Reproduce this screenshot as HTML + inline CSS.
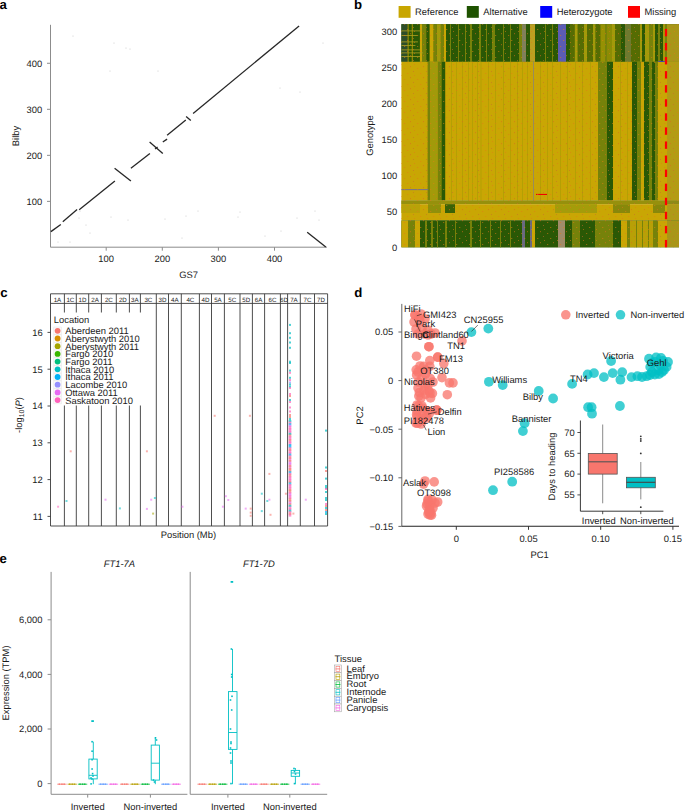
<!DOCTYPE html>
<html><head><meta charset="utf-8"><style>
html,body{margin:0;padding:0;background:#fff;width:685px;height:810px;overflow:hidden}
svg{display:block;font-family:"Liberation Sans", sans-serif}
</style></head><body>
<svg width="685" height="810" viewBox="0 0 685 810" text-rendering="geometricPrecision" font-family='"Liberation Sans", sans-serif'>
<text x="-0.6" y="8.8" font-size="13.2" font-weight="bold" fill="#000">a</text>
<text x="354" y="8.8" font-size="13.2" font-weight="bold" fill="#000">b</text>
<text x="0.2" y="296.9" font-size="13.2" font-weight="bold" fill="#000">c</text>
<text x="354.3" y="296.9" font-size="13.2" font-weight="bold" fill="#000">d</text>
<text x="-0.4" y="563.4" font-size="13.2" font-weight="bold" fill="#000">e</text>
<line x1="50.5" y1="24.8" x2="50.5" y2="247.2" stroke="#8c8c8c" stroke-width="1" />
<line x1="50.5" y1="247.2" x2="327" y2="247.2" stroke="#8c8c8c" stroke-width="1" />
<line x1="47" y1="201.37" x2="50.5" y2="201.37" stroke="#8c8c8c" stroke-width="1" />
<text transform="translate(42.2,204.67) scale(1,1.0)" font-size="9.4" text-anchor="end" fill="#1a1a1a" >100</text>
<line x1="106.2" y1="247.2" x2="106.2" y2="250.7" stroke="#8c8c8c" stroke-width="1" />
<text transform="translate(106.2,262.3) scale(1,1.0)" font-size="9.4" text-anchor="middle" fill="#1a1a1a" >100</text>
<line x1="47" y1="155.34" x2="50.5" y2="155.34" stroke="#8c8c8c" stroke-width="1" />
<text transform="translate(42.2,158.64) scale(1,1.0)" font-size="9.4" text-anchor="end" fill="#1a1a1a" >200</text>
<line x1="162.3" y1="247.2" x2="162.3" y2="250.7" stroke="#8c8c8c" stroke-width="1" />
<text transform="translate(162.3,262.3) scale(1,1.0)" font-size="9.4" text-anchor="middle" fill="#1a1a1a" >200</text>
<line x1="47" y1="109.31" x2="50.5" y2="109.31" stroke="#8c8c8c" stroke-width="1" />
<text transform="translate(42.2,112.61) scale(1,1.0)" font-size="9.4" text-anchor="end" fill="#1a1a1a" >300</text>
<line x1="218.4" y1="247.2" x2="218.4" y2="250.7" stroke="#8c8c8c" stroke-width="1" />
<text transform="translate(218.4,262.3) scale(1,1.0)" font-size="9.4" text-anchor="middle" fill="#1a1a1a" >300</text>
<line x1="47" y1="63.28" x2="50.5" y2="63.28" stroke="#8c8c8c" stroke-width="1" />
<text transform="translate(42.2,66.58) scale(1,1.0)" font-size="9.4" text-anchor="end" fill="#1a1a1a" >400</text>
<line x1="274.5" y1="247.2" x2="274.5" y2="250.7" stroke="#8c8c8c" stroke-width="1" />
<text transform="translate(274.5,262.3) scale(1,1.0)" font-size="9.4" text-anchor="middle" fill="#1a1a1a" >400</text>
<text transform="translate(188.6,277.8) scale(1,1.0)" font-size="9.4" text-anchor="middle" fill="#1a1a1a" >GS7</text>
<text transform="translate(18.8,136) rotate(-90) " font-size="9.4" text-anchor="middle" fill="#1a1a1a">Bilby</text>
<line x1="50.9" y1="231.6" x2="60.8" y2="224.5" stroke="#262626" stroke-width="1.3" stroke-linecap="butt"/>
<line x1="62.8" y1="221.7" x2="77.1" y2="209.6" stroke="#262626" stroke-width="1.3" stroke-linecap="butt"/>
<line x1="79.2" y1="209.8" x2="114.9" y2="181.1" stroke="#262626" stroke-width="1.3" stroke-linecap="butt"/>
<line x1="114.6" y1="168.2" x2="130.9" y2="181.1" stroke="#262626" stroke-width="1.3" stroke-linecap="butt"/>
<line x1="130.9" y1="168.2" x2="149.9" y2="153.4" stroke="#262626" stroke-width="1.3" stroke-linecap="butt"/>
<line x1="149.6" y1="142.1" x2="162.8" y2="153.4" stroke="#262626" stroke-width="1.3" stroke-linecap="butt"/>
<line x1="155" y1="149" x2="157.6" y2="147" stroke="#262626" stroke-width="1.3" stroke-linecap="butt"/>
<line x1="162.8" y1="142" x2="167.1" y2="139.1" stroke="#262626" stroke-width="1.3" stroke-linecap="butt"/>
<line x1="167.1" y1="135.3" x2="185.8" y2="120.1" stroke="#262626" stroke-width="1.3" stroke-linecap="butt"/>
<line x1="186.1" y1="116.6" x2="190.8" y2="120.6" stroke="#262626" stroke-width="1.3" stroke-linecap="butt"/>
<line x1="193.1" y1="113.4" x2="299.1" y2="25.9" stroke="#262626" stroke-width="1.3" stroke-linecap="butt"/>
<line x1="307.2" y1="232.3" x2="325.8" y2="247" stroke="#262626" stroke-width="1.3" stroke-linecap="butt"/>
<circle cx="73" cy="36" r="0.5" fill="#bdbdbd" />
<circle cx="114" cy="43" r="0.5" fill="#bdbdbd" />
<circle cx="126" cy="48" r="0.5" fill="#bdbdbd" />
<circle cx="130" cy="49" r="0.5" fill="#bdbdbd" />
<circle cx="110" cy="71" r="0.5" fill="#bdbdbd" />
<circle cx="158" cy="71" r="0.5" fill="#bdbdbd" />
<circle cx="80" cy="211" r="0.5" fill="#bdbdbd" />
<circle cx="79" cy="218" r="0.5" fill="#bdbdbd" />
<circle cx="86" cy="225" r="0.5" fill="#bdbdbd" />
<circle cx="90" cy="233" r="0.5" fill="#bdbdbd" />
<circle cx="111" cy="217" r="0.5" fill="#bdbdbd" />
<circle cx="128" cy="220" r="0.5" fill="#bdbdbd" />
<circle cx="165" cy="219" r="0.5" fill="#bdbdbd" />
<circle cx="186" cy="216" r="0.5" fill="#bdbdbd" />
<circle cx="198" cy="211" r="0.5" fill="#bdbdbd" />
<circle cx="238" cy="217" r="0.5" fill="#bdbdbd" />
<circle cx="240" cy="212" r="0.5" fill="#bdbdbd" />
<circle cx="265" cy="236" r="0.5" fill="#bdbdbd" />
<circle cx="281" cy="231" r="0.5" fill="#bdbdbd" />
<circle cx="297" cy="218" r="0.5" fill="#bdbdbd" />
<circle cx="319" cy="220" r="0.5" fill="#bdbdbd" />
<circle cx="280" cy="88" r="0.5" fill="#bdbdbd" />
<circle cx="300" cy="92" r="0.5" fill="#bdbdbd" />
<circle cx="323" cy="43" r="0.5" fill="#bdbdbd" />
<circle cx="315" cy="211" r="0.5" fill="#bdbdbd" />
<circle cx="58" cy="242" r="0.5" fill="#bdbdbd" />
<circle cx="70" cy="242" r="0.5" fill="#bdbdbd" />
<circle cx="182" cy="238" r="0.5" fill="#bdbdbd" />
<rect x="401.4" y="24.2" width="277.6" height="37.6" fill="#2A5805" />
<rect x="401.4" y="24.2" width="6.3" height="37.6" fill="#2E4E28" />
<rect x="407.7" y="24.2" width="1" height="37.6" fill="#C9A604" />
<rect x="408.7" y="24.2" width="3.1" height="37.6" fill="#2A5805" />
<rect x="411.8" y="24.2" width="1" height="37.6" fill="#C9A604" />
<rect x="412.8" y="24.2" width="7.1" height="37.6" fill="#2A5805" />
<rect x="419.9" y="24.2" width="2.1" height="37.6" fill="#C9A604" />
<rect x="422" y="24.2" width="4.6" height="37.6" fill="#76820A" />
<rect x="426.6" y="24.2" width="3" height="37.6" fill="#2A5805" />
<rect x="429.6" y="24.2" width="4.1" height="37.6" fill="#C9A604" />
<rect x="433.7" y="24.2" width="3.1" height="37.6" fill="#76820A" />
<rect x="436.8" y="24.2" width="4.1" height="37.6" fill="#A29A0A" />
<rect x="440.9" y="24.2" width="3" height="37.6" fill="#76820A" />
<rect x="443.9" y="24.2" width="2.1" height="37.6" fill="#C9A604" />
<rect x="446" y="24.2" width="24" height="37.6" fill="#2A5805" />
<rect x="450" y="24.2" width="1" height="37.6" fill="#76820A" />
<rect x="458" y="24.2" width="1" height="37.6" fill="#76820A" />
<rect x="465" y="24.2" width="1" height="37.6" fill="#76820A" />
<rect x="470" y="24.2" width="2" height="37.6" fill="#76820A" />
<rect x="472" y="24.2" width="7" height="37.6" fill="#2A5805" />
<rect x="479" y="24.2" width="2" height="37.6" fill="#76820A" />
<rect x="481" y="24.2" width="11" height="37.6" fill="#2A5805" />
<rect x="486" y="24.2" width="1" height="37.6" fill="#76820A" />
<rect x="492" y="24.2" width="3" height="37.6" fill="#76820A" />
<rect x="495" y="24.2" width="24" height="37.6" fill="#2A5805" />
<rect x="503" y="24.2" width="1" height="37.6" fill="#76820A" />
<rect x="510" y="24.2" width="1" height="37.6" fill="#76820A" />
<rect x="519" y="24.2" width="3" height="37.6" fill="#76820A" />
<rect x="522" y="24.2" width="4" height="37.6" fill="#80805A" />
<rect x="526" y="24.2" width="4" height="37.6" fill="#2A5805" />
<rect x="530" y="24.2" width="5" height="37.6" fill="#BCA020" />
<rect x="535" y="24.2" width="23" height="37.6" fill="#2A5805" />
<rect x="545" y="24.2" width="1" height="37.6" fill="#76820A" />
<rect x="552" y="24.2" width="1" height="37.6" fill="#76820A" />
<rect x="558" y="24.2" width="8" height="37.6" fill="#5C5CB4" />
<rect x="566" y="24.2" width="4" height="37.6" fill="#2A5805" />
<rect x="570" y="24.2" width="4.7" height="37.6" fill="#556C03" />
<rect x="574.7" y="24.2" width="3.1" height="37.6" fill="#A29A0A" />
<rect x="577.8" y="24.2" width="6.2" height="37.6" fill="#556C03" />
<rect x="584" y="24.2" width="3" height="37.6" fill="#A29A0A" />
<rect x="587" y="24.2" width="6" height="37.6" fill="#556C03" />
<rect x="593" y="24.2" width="2.7" height="37.6" fill="#A29A0A" />
<rect x="595.7" y="24.2" width="4.6" height="37.6" fill="#556C03" />
<rect x="600.3" y="24.2" width="4.7" height="37.6" fill="#969104" />
<rect x="605" y="24.2" width="2" height="37.6" fill="#76820A" />
<rect x="607" y="24.2" width="5" height="37.6" fill="#8C8C04" />
<rect x="612" y="24.2" width="3" height="37.6" fill="#A29A0A" />
<rect x="615" y="24.2" width="6" height="37.6" fill="#556C03" />
<rect x="621" y="24.2" width="4" height="37.6" fill="#2A5805" />
<rect x="625" y="24.2" width="6" height="37.6" fill="#6E7A30" />
<rect x="631" y="24.2" width="9" height="37.6" fill="#556C03" />
<rect x="640" y="24.2" width="2" height="37.6" fill="#A29A0A" />
<rect x="642" y="24.2" width="3" height="37.6" fill="#2A5805" />
<rect x="645" y="24.2" width="4" height="37.6" fill="#A29A0A" />
<rect x="649" y="24.2" width="4" height="37.6" fill="#76820A" />
<rect x="653" y="24.2" width="2" height="37.6" fill="#A29A0A" />
<rect x="655" y="24.2" width="3" height="37.6" fill="#2A5805" />
<rect x="658" y="24.2" width="2" height="37.6" fill="#76820A" />
<rect x="660" y="24.2" width="3" height="37.6" fill="#2A5805" />
<rect x="663" y="24.2" width="2" height="37.6" fill="#A29A0A" />
<rect x="665" y="24.2" width="2" height="37.6" fill="#76820A" />
<rect x="667" y="24.2" width="12" height="37.6" fill="#A89618" />
<rect x="401.4" y="30.5" width="20.5" height="0.8" fill="#B0A020" />
<rect x="401.4" y="35" width="16" height="0.8" fill="#B0A020" />
<rect x="401.4" y="41.5" width="16.5" height="0.8" fill="#B0A020" />
<rect x="401.4" y="45" width="14" height="0.8" fill="#B0A020" />
<rect x="401.4" y="49.5" width="18.5" height="0.8" fill="#B0A020" />
<rect x="401.4" y="52.5" width="21.5" height="0.8" fill="#B0A020" />
<rect x="401.4" y="56" width="19" height="0.8" fill="#B0A020" />
<rect x="401.4" y="61.8" width="277.6" height="138.7" fill="#C9A604" />
<rect x="427.6" y="61.8" width="2.8" height="138.7" fill="#76820A" />
<rect x="430.4" y="61.8" width="7.4" height="138.7" fill="#A29A0A" />
<rect x="437.8" y="61.8" width="3.7" height="138.7" fill="#76820A" />
<rect x="441.5" y="61.8" width="3.7" height="138.7" fill="#2A5805" />
<rect x="533" y="61.8" width="1" height="138.7" fill="#988C5A" />
<rect x="598" y="61.8" width="2" height="138.7" fill="#76820A" />
<rect x="600" y="61.8" width="7" height="138.7" fill="#76820A" />
<rect x="607" y="61.8" width="6" height="138.7" fill="#2A5805" />
<rect x="632" y="61.8" width="5" height="138.7" fill="#2A5805" />
<rect x="637" y="61.8" width="4" height="138.7" fill="#76820A" />
<rect x="644" y="61.8" width="5" height="138.7" fill="#2A5805" />
<rect x="649" y="61.8" width="3" height="138.7" fill="#76820A" />
<rect x="652" y="61.8" width="3" height="138.7" fill="#2A5805" />
<rect x="655" y="61.8" width="3" height="138.7" fill="#76820A" />
<rect x="667" y="61.8" width="12" height="138.7" fill="#B39C14" />
<rect x="451" y="61.8" width="1" height="138.7" fill="#B4A004" />
<rect x="456" y="61.8" width="1" height="138.7" fill="#B4A004" />
<rect x="462" y="61.8" width="1" height="138.7" fill="#B4A004" />
<rect x="468" y="61.8" width="1" height="138.7" fill="#B4A004" />
<rect x="472" y="61.8" width="1" height="138.7" fill="#B4A004" />
<rect x="477" y="61.8" width="1" height="138.7" fill="#B4A004" />
<rect x="480.5" y="61.8" width="1" height="138.7" fill="#B4A004" />
<rect x="488" y="61.8" width="1" height="138.7" fill="#B4A004" />
<rect x="495" y="61.8" width="1" height="138.7" fill="#B4A004" />
<rect x="503" y="61.8" width="1" height="138.7" fill="#B4A004" />
<rect x="510" y="61.8" width="1" height="138.7" fill="#B4A004" />
<rect x="517" y="61.8" width="1" height="138.7" fill="#B4A004" />
<rect x="522" y="61.8" width="1" height="138.7" fill="#B4A004" />
<rect x="527" y="61.8" width="1" height="138.7" fill="#B4A004" />
<rect x="540" y="61.8" width="1" height="138.7" fill="#B4A004" />
<rect x="547" y="61.8" width="1" height="138.7" fill="#B4A004" />
<rect x="552" y="61.8" width="1" height="138.7" fill="#B4A004" />
<rect x="560" y="61.8" width="1" height="138.7" fill="#B4A004" />
<rect x="567" y="61.8" width="1" height="138.7" fill="#B4A004" />
<rect x="575" y="61.8" width="1" height="138.7" fill="#B4A004" />
<rect x="582" y="61.8" width="1" height="138.7" fill="#B4A004" />
<rect x="590" y="61.8" width="1" height="138.7" fill="#B4A004" />
<rect x="620" y="61.8" width="1" height="138.7" fill="#B4A004" />
<rect x="627" y="61.8" width="1" height="138.7" fill="#B4A004" />
<rect x="401.4" y="189.2" width="27" height="0.9" fill="#6A6AA0" />
<rect x="658.3" y="61" width="6.4" height="0.9" fill="#4040C0" />
<rect x="536" y="193.9" width="11" height="1.1" fill="#F00000" />
<rect x="401.4" y="200.5" width="277.6" height="3.7" fill="#96900C" />
<rect x="401.4" y="200.5" width="263.6" height="3.7" fill="#96900C" />
<rect x="667" y="200.5" width="12" height="3.7" fill="#8E8A18" />
<rect x="401.4" y="204.2" width="277.6" height="16.3" fill="#C9A604" />
<rect x="667" y="204.2" width="12" height="16.3" fill="#AE9A18" />
<rect x="428" y="204.2" width="13" height="8.8" fill="#90900A" />
<rect x="445" y="204.2" width="10" height="8.8" fill="#3A6206" />
<rect x="555" y="204.2" width="42" height="8.8" fill="#A49C0A" />
<rect x="613" y="204.2" width="17" height="8.8" fill="#88880A" />
<rect x="653" y="204.2" width="12" height="8.8" fill="#88880A" />
<rect x="401.4" y="204.2" width="18.6" height="8.8" fill="#B8A208" />
<rect x="401.4" y="220.5" width="277.6" height="26.8" fill="#2A5805" />
<rect x="401.4" y="220.5" width="6.6" height="26.8" fill="#C9A604" />
<rect x="408" y="220.5" width="7" height="26.8" fill="#76820A" />
<rect x="415" y="220.5" width="5" height="26.8" fill="#C9A604" />
<rect x="420" y="220.5" width="102" height="26.8" fill="#2A5805" />
<rect x="425" y="220.5" width="2" height="26.8" fill="#76820A" />
<rect x="431" y="220.5" width="2" height="26.8" fill="#76820A" />
<rect x="437" y="220.5" width="1" height="26.8" fill="#76820A" />
<rect x="445" y="220.5" width="2" height="26.8" fill="#76820A" />
<rect x="455" y="220.5" width="1" height="26.8" fill="#76820A" />
<rect x="470" y="220.5" width="2" height="26.8" fill="#76820A" />
<rect x="480" y="220.5" width="1" height="26.8" fill="#76820A" />
<rect x="490" y="220.5" width="1" height="26.8" fill="#76820A" />
<rect x="500" y="220.5" width="1" height="26.8" fill="#76820A" />
<rect x="510" y="220.5" width="1" height="26.8" fill="#76820A" />
<rect x="522" y="220.5" width="3" height="26.8" fill="#6A6A80" />
<rect x="525" y="220.5" width="5" height="26.8" fill="#2A5805" />
<rect x="530" y="220.5" width="2" height="26.8" fill="#6A6A80" />
<rect x="532" y="220.5" width="3" height="26.8" fill="#C9A604" />
<rect x="535" y="220.5" width="23" height="26.8" fill="#2A5805" />
<rect x="558" y="220.5" width="7" height="26.8" fill="#A08C6A" />
<rect x="565" y="220.5" width="7" height="26.8" fill="#2A5805" />
<rect x="572" y="220.5" width="8" height="26.8" fill="#76820A" />
<rect x="580" y="220.5" width="15" height="26.8" fill="#2A5805" />
<rect x="595" y="220.5" width="18" height="26.8" fill="#76820A" />
<rect x="613" y="220.5" width="8" height="26.8" fill="#2A5805" />
<rect x="621" y="220.5" width="6" height="26.8" fill="#C9A604" />
<rect x="627" y="220.5" width="3" height="26.8" fill="#76820A" />
<rect x="630" y="220.5" width="23" height="26.8" fill="#B8A006" />
<rect x="636" y="220.5" width="1" height="26.8" fill="#76820A" />
<rect x="642" y="220.5" width="1" height="26.8" fill="#76820A" />
<rect x="648" y="220.5" width="1" height="26.8" fill="#76820A" />
<rect x="653" y="220.5" width="5" height="26.8" fill="#76820A" />
<rect x="658" y="220.5" width="7" height="26.8" fill="#C9A604" />
<rect x="665" y="220.5" width="2" height="26.8" fill="#C9A604" />
<rect x="667" y="220.5" width="12" height="26.8" fill="#A89618" />
<defs><pattern id="nz" x="0" y="0" width="13" height="11" patternUnits="userSpaceOnUse"><rect x="1" y="2" width="1.2" height="1" fill="#E07818"/><rect x="7" y="0" width="1" height="1.2" fill="#D86A20"/><rect x="4" y="7" width="1.3" height="1" fill="#E08010"/><rect x="10" y="5" width="1" height="1" fill="#C86A30"/><rect x="11" y="9" width="1" height="1" fill="#E07818"/></pattern></defs>
<rect x="401.4" y="24.2" width="277.6" height="223.1" fill="url(#nz)" opacity="0.55"/>
<rect x="664.9" y="28.9" width="2.2" height="7.4" fill="#FF0000" />
<rect x="664.9" y="42.97" width="2.2" height="7.4" fill="#FF0000" />
<rect x="664.9" y="57.04" width="2.2" height="7.4" fill="#FF0000" />
<rect x="664.9" y="71.11" width="2.2" height="7.4" fill="#FF0000" />
<rect x="664.9" y="85.18" width="2.2" height="7.4" fill="#FF0000" />
<rect x="664.9" y="99.25" width="2.2" height="7.4" fill="#FF0000" />
<rect x="664.9" y="113.32" width="2.2" height="7.4" fill="#FF0000" />
<rect x="664.9" y="127.39" width="2.2" height="7.4" fill="#FF0000" />
<rect x="664.9" y="141.46" width="2.2" height="7.4" fill="#FF0000" />
<rect x="664.9" y="155.53" width="2.2" height="7.4" fill="#FF0000" />
<rect x="664.9" y="169.6" width="2.2" height="7.4" fill="#FF0000" />
<rect x="664.9" y="183.67" width="2.2" height="7.4" fill="#FF0000" />
<rect x="664.9" y="197.74" width="2.2" height="7.4" fill="#FF0000" />
<rect x="664.9" y="211.81" width="2.2" height="7.4" fill="#FF0000" />
<rect x="664.9" y="225.88" width="2.2" height="7.4" fill="#FF0000" />
<rect x="664.9" y="239.95" width="2.2" height="7.35" fill="#FF0000" />
<text transform="translate(397.2,251.3) scale(1,1.0)" font-size="9.4" text-anchor="end" fill="#1a1a1a" >0</text>
<text transform="translate(397.2,215.22) scale(1,1.0)" font-size="9.4" text-anchor="end" fill="#1a1a1a" >50</text>
<text transform="translate(397.2,179.14) scale(1,1.0)" font-size="9.4" text-anchor="end" fill="#1a1a1a" >100</text>
<text transform="translate(397.2,143.06) scale(1,1.0)" font-size="9.4" text-anchor="end" fill="#1a1a1a" >150</text>
<text transform="translate(397.2,106.98) scale(1,1.0)" font-size="9.4" text-anchor="end" fill="#1a1a1a" >200</text>
<text transform="translate(397.2,70.9) scale(1,1.0)" font-size="9.4" text-anchor="end" fill="#1a1a1a" >250</text>
<text transform="translate(397.2,34.82) scale(1,1.0)" font-size="9.4" text-anchor="end" fill="#1a1a1a" >300</text>
<text transform="translate(373.4,135.5) rotate(-90) " font-size="9.4" text-anchor="middle" fill="#1a1a1a">Genotype</text>
<rect x="398.6" y="6" width="12" height="11.8" fill="#C8A600" />
<text transform="translate(415.1,15.2) scale(1,1.0)" font-size="9.4" text-anchor="start" fill="#1a1a1a" >Reference</text>
<rect x="466.8" y="6" width="12" height="11.8" fill="#1E5200" />
<text transform="translate(483.3,15.2) scale(1,1.0)" font-size="9.4" text-anchor="start" fill="#1a1a1a" >Alternative</text>
<rect x="540.2" y="6" width="12" height="11.8" fill="#0000FF" />
<text transform="translate(556.7,15.2) scale(1,1.0)" font-size="9.4" text-anchor="start" fill="#1a1a1a" >Heterozygote</text>
<rect x="628" y="6" width="12" height="11.8" fill="#FF0000" />
<text transform="translate(644.5,15.2) scale(1,1.0)" font-size="9.4" text-anchor="start" fill="#1a1a1a" >Missing</text>
<line x1="50.5" y1="293.8" x2="50.5" y2="526" stroke="#3a3a3a" stroke-width="0.9" />
<line x1="64.4" y1="293.8" x2="64.4" y2="526" stroke="#3a3a3a" stroke-width="0.9" />
<line x1="76.3" y1="293.8" x2="76.3" y2="526" stroke="#3a3a3a" stroke-width="0.9" />
<line x1="88.7" y1="293.8" x2="88.7" y2="526" stroke="#3a3a3a" stroke-width="0.9" />
<line x1="101.4" y1="293.8" x2="101.4" y2="526" stroke="#3a3a3a" stroke-width="0.9" />
<line x1="116.3" y1="293.8" x2="116.3" y2="526" stroke="#3a3a3a" stroke-width="0.9" />
<line x1="129.4" y1="293.8" x2="129.4" y2="526" stroke="#3a3a3a" stroke-width="0.9" />
<line x1="140.4" y1="293.8" x2="140.4" y2="526" stroke="#3a3a3a" stroke-width="0.9" />
<line x1="156.3" y1="293.8" x2="156.3" y2="526" stroke="#3a3a3a" stroke-width="0.9" />
<line x1="168.5" y1="293.8" x2="168.5" y2="526" stroke="#3a3a3a" stroke-width="0.9" />
<line x1="181.3" y1="293.8" x2="181.3" y2="526" stroke="#3a3a3a" stroke-width="0.9" />
<line x1="199.4" y1="293.8" x2="199.4" y2="526" stroke="#3a3a3a" stroke-width="0.9" />
<line x1="211.5" y1="293.8" x2="211.5" y2="526" stroke="#3a3a3a" stroke-width="0.9" />
<line x1="224.4" y1="293.8" x2="224.4" y2="526" stroke="#3a3a3a" stroke-width="0.9" />
<line x1="240" y1="293.8" x2="240" y2="526" stroke="#3a3a3a" stroke-width="0.9" />
<line x1="252.4" y1="293.8" x2="252.4" y2="526" stroke="#3a3a3a" stroke-width="0.9" />
<line x1="264.6" y1="293.8" x2="264.6" y2="526" stroke="#3a3a3a" stroke-width="0.9" />
<line x1="280.4" y1="293.8" x2="280.4" y2="526" stroke="#3a3a3a" stroke-width="0.9" />
<line x1="287.6" y1="293.8" x2="287.6" y2="526" stroke="#3a3a3a" stroke-width="0.9" />
<line x1="300.3" y1="293.8" x2="300.3" y2="526" stroke="#3a3a3a" stroke-width="0.9" />
<line x1="314.5" y1="293.8" x2="314.5" y2="526" stroke="#3a3a3a" stroke-width="0.9" />
<line x1="327.6" y1="293.8" x2="327.6" y2="526" stroke="#3a3a3a" stroke-width="0.9" />
<line x1="50.5" y1="293.8" x2="327.6" y2="293.8" stroke="#3a3a3a" stroke-width="0.9" />
<line x1="50.5" y1="303.4" x2="327.6" y2="303.4" stroke="#3a3a3a" stroke-width="0.9" />
<line x1="50.5" y1="526" x2="327.6" y2="526" stroke="#3a3a3a" stroke-width="0.9" />
<text transform="translate(57.45,302) scale(1,1.0)" font-size="6.2" text-anchor="middle" fill="#1a1a1a" >1A</text>
<text transform="translate(70.35,302) scale(1,1.0)" font-size="6.2" text-anchor="middle" fill="#1a1a1a" >1C</text>
<text transform="translate(82.5,302) scale(1,1.0)" font-size="6.2" text-anchor="middle" fill="#1a1a1a" >1D</text>
<text transform="translate(95.05,302) scale(1,1.0)" font-size="6.2" text-anchor="middle" fill="#1a1a1a" >2A</text>
<text transform="translate(108.85,302) scale(1,1.0)" font-size="6.2" text-anchor="middle" fill="#1a1a1a" >2C</text>
<text transform="translate(122.85,302) scale(1,1.0)" font-size="6.2" text-anchor="middle" fill="#1a1a1a" >2D</text>
<text transform="translate(134.9,302) scale(1,1.0)" font-size="6.2" text-anchor="middle" fill="#1a1a1a" >3A</text>
<text transform="translate(148.35,302) scale(1,1.0)" font-size="6.2" text-anchor="middle" fill="#1a1a1a" >3C</text>
<text transform="translate(162.4,302) scale(1,1.0)" font-size="6.2" text-anchor="middle" fill="#1a1a1a" >3D</text>
<text transform="translate(174.9,302) scale(1,1.0)" font-size="6.2" text-anchor="middle" fill="#1a1a1a" >4A</text>
<text transform="translate(190.35,302) scale(1,1.0)" font-size="6.2" text-anchor="middle" fill="#1a1a1a" >4C</text>
<text transform="translate(205.45,302) scale(1,1.0)" font-size="6.2" text-anchor="middle" fill="#1a1a1a" >4D</text>
<text transform="translate(217.95,302) scale(1,1.0)" font-size="6.2" text-anchor="middle" fill="#1a1a1a" >5A</text>
<text transform="translate(232.2,302) scale(1,1.0)" font-size="6.2" text-anchor="middle" fill="#1a1a1a" >5C</text>
<text transform="translate(246.2,302) scale(1,1.0)" font-size="6.2" text-anchor="middle" fill="#1a1a1a" >5D</text>
<text transform="translate(258.5,302) scale(1,1.0)" font-size="6.2" text-anchor="middle" fill="#1a1a1a" >6A</text>
<text transform="translate(272.5,302) scale(1,1.0)" font-size="6.2" text-anchor="middle" fill="#1a1a1a" >6C</text>
<text transform="translate(284,302) scale(1,1.0)" font-size="6.2" text-anchor="middle" fill="#1a1a1a" >6D</text>
<text transform="translate(293.95,302) scale(1,1.0)" font-size="6.2" text-anchor="middle" fill="#1a1a1a" >7A</text>
<text transform="translate(307.4,302) scale(1,1.0)" font-size="6.2" text-anchor="middle" fill="#1a1a1a" >7C</text>
<text transform="translate(321.05,302) scale(1,1.0)" font-size="6.2" text-anchor="middle" fill="#1a1a1a" >7D</text>
<line x1="47.5" y1="516.4" x2="50.5" y2="516.4" stroke="#3a3a3a" stroke-width="0.9" />
<text transform="translate(42.6,519.7) scale(1,1.0)" font-size="9.4" text-anchor="end" fill="#1a1a1a" >11</text>
<line x1="47.5" y1="479.6" x2="50.5" y2="479.6" stroke="#3a3a3a" stroke-width="0.9" />
<text transform="translate(42.6,482.9) scale(1,1.0)" font-size="9.4" text-anchor="end" fill="#1a1a1a" >12</text>
<line x1="47.5" y1="442.8" x2="50.5" y2="442.8" stroke="#3a3a3a" stroke-width="0.9" />
<text transform="translate(42.6,446.1) scale(1,1.0)" font-size="9.4" text-anchor="end" fill="#1a1a1a" >13</text>
<line x1="47.5" y1="406" x2="50.5" y2="406" stroke="#3a3a3a" stroke-width="0.9" />
<text transform="translate(42.6,409.3) scale(1,1.0)" font-size="9.4" text-anchor="end" fill="#1a1a1a" >14</text>
<line x1="47.5" y1="369.2" x2="50.5" y2="369.2" stroke="#3a3a3a" stroke-width="0.9" />
<text transform="translate(42.6,372.5) scale(1,1.0)" font-size="9.4" text-anchor="end" fill="#1a1a1a" >15</text>
<line x1="47.5" y1="332.4" x2="50.5" y2="332.4" stroke="#3a3a3a" stroke-width="0.9" />
<text transform="translate(42.6,335.7) scale(1,1.0)" font-size="9.4" text-anchor="end" fill="#1a1a1a" >16</text>
<text transform="translate(21.5,415) rotate(-90) " font-size="9.4" text-anchor="middle" fill="#1a1a1a">-log<tspan font-size="7" dy="2.4">10</tspan><tspan dy="-2.4">(</tspan><tspan font-style="italic">P</tspan>)</text>
<text transform="translate(188.4,537.8) scale(1,1.0)" font-size="9.4" text-anchor="middle" fill="#1a1a1a" >Position (Mb)</text>
<rect x="57.1" y="505.7" width="2" height="2" fill="#FF62BC" opacity="0.55"/>
<rect x="65.5" y="500" width="2" height="2" fill="#00BFC4" opacity="0.55"/>
<rect x="69.7" y="450.3" width="2" height="2" fill="#F8766D" opacity="0.55"/>
<rect x="104.5" y="498.7" width="2" height="2" fill="#E76BF3" opacity="0.55"/>
<rect x="118.9" y="507.4" width="2" height="2" fill="#00BFC4" opacity="0.55"/>
<rect x="145.9" y="450.3" width="2" height="2" fill="#F8766D" opacity="0.55"/>
<rect x="145.9" y="507.9" width="2" height="2" fill="#E76BF3" opacity="0.55"/>
<rect x="150.2" y="498.7" width="2" height="2" fill="#E76BF3" opacity="0.55"/>
<rect x="153.9" y="497" width="2" height="2" fill="#00BFC4" opacity="0.55"/>
<rect x="152.1" y="512.6" width="2" height="2" fill="#A3A500" opacity="0.55"/>
<rect x="181.4" y="505.7" width="2" height="2" fill="#E76BF3" opacity="0.55"/>
<rect x="213.7" y="414.8" width="2" height="2" fill="#F8766D" opacity="0.55"/>
<rect x="221.9" y="505.7" width="2" height="2" fill="#E76BF3" opacity="0.55"/>
<rect x="224.8" y="495.2" width="2" height="2" fill="#E76BF3" opacity="0.55"/>
<rect x="227.3" y="499" width="2" height="2" fill="#E76BF3" opacity="0.55"/>
<rect x="244.7" y="507.6" width="2" height="2" fill="#E76BF3" opacity="0.55"/>
<rect x="248.9" y="414.8" width="2" height="2" fill="#F8766D" opacity="0.55"/>
<rect x="249.7" y="507.6" width="2" height="2" fill="#F8766D" opacity="0.55"/>
<rect x="249.7" y="511.6" width="2" height="2" fill="#F8766D" opacity="0.55"/>
<rect x="249.7" y="514.8" width="2" height="2" fill="#F8766D" opacity="0.55"/>
<rect x="260.8" y="492.7" width="2" height="2" fill="#00BFC4" opacity="0.55"/>
<rect x="260.8" y="510.1" width="2" height="2" fill="#00BFC4" opacity="0.55"/>
<rect x="266.3" y="500" width="2" height="2" fill="#00BFC4" opacity="0.55"/>
<rect x="268.4" y="498.7" width="2" height="2" fill="#E76BF3" opacity="0.55"/>
<rect x="268.4" y="472.9" width="2" height="2" fill="#F8766D" opacity="0.55"/>
<rect x="269.5" y="513.8" width="2" height="2" fill="#F8766D" opacity="0.55"/>
<rect x="284.9" y="492.7" width="2" height="2" fill="#F8766D" opacity="0.55"/>
<rect x="292.4" y="512.6" width="2" height="2" fill="#F8766D" opacity="0.55"/>
<rect x="304.8" y="498.7" width="2" height="2" fill="#E76BF3" opacity="0.55"/>
<rect x="289" y="323.9" width="2" height="2" fill="#00BFC4" opacity="0.7"/>
<rect x="289" y="332.2" width="2" height="2" fill="#00BFC4" opacity="0.7"/>
<rect x="289" y="336.8" width="2" height="2" fill="#00BFC4" opacity="0.7"/>
<rect x="289" y="341.5" width="2" height="2" fill="#00BFC4" opacity="0.7"/>
<rect x="289" y="346.8" width="2" height="2" fill="#00BFC4" opacity="0.7"/>
<rect x="289" y="360.7" width="2" height="2" fill="#00BFC4" opacity="0.7"/>
<rect x="289" y="362" width="2" height="2" fill="#00BFC4" opacity="0.7"/>
<rect x="289" y="369.6" width="2" height="2" fill="#00BFC4" opacity="0.7"/>
<rect x="289" y="371.8" width="2" height="2" fill="#FF62BC" opacity="0.7"/>
<rect x="289" y="376.8" width="2" height="2" fill="#00BFC4" opacity="0.7"/>
<rect x="289" y="379" width="2" height="2" fill="#FF62BC" opacity="0.7"/>
<rect x="289" y="381.5" width="2" height="2" fill="#9590FF" opacity="0.7"/>
<rect x="289" y="383.5" width="2" height="2" fill="#00BFC4" opacity="0.7"/>
<rect x="289" y="385.7" width="2" height="2" fill="#00BFC4" opacity="0.7"/>
<rect x="289" y="387" width="2" height="2" fill="#FF62BC" opacity="0.7"/>
<rect x="289" y="393" width="2" height="2" fill="#FF62BC" opacity="0.7"/>
<rect x="289" y="395" width="2" height="2" fill="#F8766D" opacity="0.7"/>
<rect x="289" y="399" width="2" height="2" fill="#00BFC4" opacity="0.7"/>
<rect x="289" y="401" width="2" height="2" fill="#FF62BC" opacity="0.7"/>
<rect x="289" y="406.5" width="2" height="2" fill="#FF62BC" opacity="0.7"/>
<rect x="289" y="410.5" width="2" height="2" fill="#FF62BC" opacity="0.7"/>
<rect x="289" y="414" width="2" height="2" fill="#F8766D" opacity="0.7"/>
<rect x="289" y="416" width="2" height="2" fill="#F8766D" opacity="0.7"/>
<rect x="289" y="418" width="2" height="2" fill="#00BFC4" opacity="0.7"/>
<rect x="288.7" y="420" width="2.6" height="2.2" fill="#00BFC4" opacity="0.7"/>
<rect x="288.7" y="421.6" width="2.6" height="2.2" fill="#FF62BC" opacity="0.7"/>
<rect x="288.7" y="423.2" width="2.6" height="2.2" fill="#00B0F6" opacity="0.7"/>
<rect x="288.7" y="424.8" width="2.6" height="2.2" fill="#E76BF3" opacity="0.7"/>
<rect x="288.7" y="426.4" width="2.6" height="2.2" fill="#FF62BC" opacity="0.7"/>
<rect x="288.7" y="428" width="2.6" height="2.2" fill="#FF62BC" opacity="0.7"/>
<rect x="288.7" y="429.6" width="2.6" height="2.2" fill="#FF62BC" opacity="0.7"/>
<rect x="288.7" y="431.2" width="2.6" height="2.2" fill="#FF62BC" opacity="0.7"/>
<rect x="288.7" y="432.8" width="2.6" height="2.2" fill="#00BFC4" opacity="0.7"/>
<rect x="288.7" y="434.4" width="2.6" height="2.2" fill="#F8766D" opacity="0.7"/>
<rect x="288.7" y="436" width="2.6" height="2.2" fill="#FF62BC" opacity="0.7"/>
<rect x="288.7" y="437.6" width="2.6" height="2.2" fill="#FF62BC" opacity="0.7"/>
<rect x="288.7" y="439.2" width="2.6" height="2.2" fill="#F8766D" opacity="0.7"/>
<rect x="288.7" y="440.8" width="2.6" height="2.2" fill="#FF62BC" opacity="0.7"/>
<rect x="288.7" y="442.4" width="2.6" height="2.2" fill="#FF62BC" opacity="0.7"/>
<rect x="288.7" y="444" width="2.6" height="2.2" fill="#00B0F6" opacity="0.7"/>
<rect x="288.7" y="445.6" width="2.6" height="2.2" fill="#00B0F6" opacity="0.7"/>
<rect x="288.7" y="447.2" width="2.6" height="2.2" fill="#FF62BC" opacity="0.7"/>
<rect x="288.7" y="448.8" width="2.6" height="2.2" fill="#F8766D" opacity="0.7"/>
<rect x="288.7" y="450.4" width="2.6" height="2.2" fill="#FF62BC" opacity="0.7"/>
<rect x="288.7" y="452" width="2.6" height="2.2" fill="#FF62BC" opacity="0.7"/>
<rect x="288.7" y="453.6" width="2.6" height="2.2" fill="#00B0F6" opacity="0.7"/>
<rect x="288.7" y="455.2" width="2.6" height="2.2" fill="#FF62BC" opacity="0.7"/>
<rect x="288.7" y="456.8" width="2.6" height="2.2" fill="#F8766D" opacity="0.7"/>
<rect x="288.7" y="458.4" width="2.6" height="2.2" fill="#FF62BC" opacity="0.7"/>
<rect x="288.7" y="460" width="2.6" height="2.2" fill="#F8766D" opacity="0.7"/>
<rect x="288.7" y="461.6" width="2.6" height="2.2" fill="#E76BF3" opacity="0.7"/>
<rect x="288.7" y="463.2" width="2.6" height="2.2" fill="#E76BF3" opacity="0.7"/>
<rect x="288.7" y="464.8" width="2.6" height="2.2" fill="#F8766D" opacity="0.7"/>
<rect x="288.7" y="466.4" width="2.6" height="2.2" fill="#FF62BC" opacity="0.7"/>
<rect x="288.7" y="468" width="2.6" height="2.2" fill="#F8766D" opacity="0.7"/>
<rect x="288.7" y="469.6" width="2.6" height="2.2" fill="#F8766D" opacity="0.7"/>
<rect x="288.7" y="471.2" width="2.6" height="2.2" fill="#00B0F6" opacity="0.7"/>
<rect x="288.7" y="472.8" width="2.6" height="2.2" fill="#FF62BC" opacity="0.7"/>
<rect x="288.7" y="474.4" width="2.6" height="2.2" fill="#F8766D" opacity="0.7"/>
<rect x="288.7" y="476" width="2.6" height="2.2" fill="#FF62BC" opacity="0.7"/>
<rect x="288.7" y="477.6" width="2.6" height="2.2" fill="#FF62BC" opacity="0.7"/>
<rect x="288.7" y="479.2" width="2.6" height="2.2" fill="#FF62BC" opacity="0.7"/>
<rect x="288.7" y="480.8" width="2.6" height="2.2" fill="#F8766D" opacity="0.7"/>
<rect x="288.7" y="482.4" width="2.6" height="2.2" fill="#00B0F6" opacity="0.7"/>
<rect x="288.7" y="484" width="2.6" height="2.2" fill="#FF62BC" opacity="0.7"/>
<rect x="288.7" y="485.6" width="2.6" height="2.2" fill="#FF62BC" opacity="0.7"/>
<rect x="288.7" y="487.2" width="2.6" height="2.2" fill="#FF62BC" opacity="0.7"/>
<rect x="288.7" y="488.8" width="2.6" height="2.2" fill="#F8766D" opacity="0.7"/>
<rect x="288.7" y="490.4" width="2.6" height="2.2" fill="#F8766D" opacity="0.7"/>
<rect x="288.7" y="492" width="2.6" height="2.2" fill="#FF62BC" opacity="0.7"/>
<rect x="288.7" y="493.6" width="2.6" height="2.2" fill="#E76BF3" opacity="0.7"/>
<rect x="288.7" y="495.2" width="2.6" height="2.2" fill="#FF62BC" opacity="0.7"/>
<rect x="288.7" y="496.8" width="2.6" height="2.2" fill="#FF62BC" opacity="0.7"/>
<rect x="288.7" y="498.4" width="2.6" height="2.2" fill="#F8766D" opacity="0.7"/>
<rect x="288.7" y="500" width="2.6" height="2.2" fill="#F8766D" opacity="0.7"/>
<rect x="288.7" y="501.6" width="2.6" height="2.2" fill="#E76BF3" opacity="0.7"/>
<rect x="288.7" y="503.2" width="2.6" height="2.2" fill="#F8766D" opacity="0.7"/>
<rect x="288.7" y="504.8" width="2.6" height="2.2" fill="#00BFC4" opacity="0.7"/>
<rect x="288.7" y="506.4" width="2.6" height="2.2" fill="#FF62BC" opacity="0.7"/>
<rect x="288.7" y="508" width="2.6" height="2.2" fill="#FF62BC" opacity="0.7"/>
<rect x="288.7" y="509.6" width="2.6" height="2.2" fill="#00BFC4" opacity="0.7"/>
<rect x="288.7" y="511.2" width="2.6" height="2.2" fill="#FF62BC" opacity="0.7"/>
<rect x="288.7" y="512.8" width="2.6" height="2.2" fill="#F8766D" opacity="0.7"/>
<rect x="288.7" y="514.4" width="2.6" height="2.2" fill="#FF62BC" opacity="0.7"/>
<rect x="325" y="429.6" width="2" height="2" fill="#00BFC4" opacity="0.7"/>
<rect x="325" y="466.5" width="2" height="2" fill="#00BFC4" opacity="0.7"/>
<rect x="325" y="470" width="2" height="2" fill="#F8766D" opacity="0.7"/>
<rect x="325" y="477.6" width="2" height="2" fill="#00BFC4" opacity="0.7"/>
<rect x="325" y="485" width="2" height="2" fill="#00BFC4" opacity="0.7"/>
<rect x="325" y="487" width="2" height="2" fill="#00BFC4" opacity="0.7"/>
<rect x="325" y="488" width="2" height="2" fill="#FF62BC" opacity="0.7"/>
<rect x="325" y="491" width="2" height="2" fill="#00BFC4" opacity="0.7"/>
<rect x="325" y="497" width="2" height="2" fill="#00BFC4" opacity="0.7"/>
<rect x="325" y="499" width="2" height="2" fill="#00BFC4" opacity="0.7"/>
<rect x="325" y="503" width="2" height="2" fill="#FF62BC" opacity="0.7"/>
<rect x="325" y="505" width="2" height="2" fill="#F8766D" opacity="0.7"/>
<rect x="325" y="507" width="2" height="2" fill="#00BFC4" opacity="0.7"/>
<rect x="325" y="509" width="2" height="2" fill="#F8766D" opacity="0.7"/>
<rect x="325" y="511" width="2" height="2" fill="#00B0F6" opacity="0.7"/>
<rect x="325" y="513" width="2" height="2" fill="#00BFC4" opacity="0.7"/>
<rect x="51.2" y="312.5" width="90.5" height="93" fill="#fff" />
<text transform="translate(53.8,322.8) scale(1,1.0)" font-size="9.4" text-anchor="start" fill="#1a1a1a" >Location</text>
<rect x="53.8" y="327" width="7.6" height="7.6" fill="#fafafa" stroke="#e6e6e6" stroke-width="0.5"/>
<circle cx="57.6" cy="330.8" r="2.9" fill="#F8766D" />
<text transform="translate(65.2,334.2) scale(1,1.0)" font-size="9.4" text-anchor="start" fill="#1a1a1a" >Aberdeen 2011</text>
<rect x="53.8" y="334.7" width="7.6" height="7.6" fill="#fafafa" stroke="#e6e6e6" stroke-width="0.5"/>
<circle cx="57.6" cy="338.5" r="2.9" fill="#D89000" />
<text transform="translate(65.2,341.9) scale(1,1.0)" font-size="9.4" text-anchor="start" fill="#1a1a1a" >Aberystwyth 2010</text>
<rect x="53.8" y="342.4" width="7.6" height="7.6" fill="#fafafa" stroke="#e6e6e6" stroke-width="0.5"/>
<circle cx="57.6" cy="346.2" r="2.9" fill="#A3A500" />
<text transform="translate(65.2,349.6) scale(1,1.0)" font-size="9.4" text-anchor="start" fill="#1a1a1a" >Aberystwyth 2011</text>
<rect x="53.8" y="350.1" width="7.6" height="7.6" fill="#fafafa" stroke="#e6e6e6" stroke-width="0.5"/>
<circle cx="57.6" cy="353.9" r="2.9" fill="#39B600" />
<text transform="translate(65.2,357.3) scale(1,1.0)" font-size="9.4" text-anchor="start" fill="#1a1a1a" >Fargo 2010</text>
<rect x="53.8" y="357.8" width="7.6" height="7.6" fill="#fafafa" stroke="#e6e6e6" stroke-width="0.5"/>
<circle cx="57.6" cy="361.6" r="2.9" fill="#00BF7D" />
<text transform="translate(65.2,365) scale(1,1.0)" font-size="9.4" text-anchor="start" fill="#1a1a1a" >Fargo 2011</text>
<rect x="53.8" y="365.5" width="7.6" height="7.6" fill="#fafafa" stroke="#e6e6e6" stroke-width="0.5"/>
<circle cx="57.6" cy="369.3" r="2.9" fill="#00BFC4" />
<text transform="translate(65.2,372.7) scale(1,1.0)" font-size="9.4" text-anchor="start" fill="#1a1a1a" >Ithaca 2010</text>
<rect x="53.8" y="373.2" width="7.6" height="7.6" fill="#fafafa" stroke="#e6e6e6" stroke-width="0.5"/>
<circle cx="57.6" cy="377" r="2.9" fill="#00B0F6" />
<text transform="translate(65.2,380.4) scale(1,1.0)" font-size="9.4" text-anchor="start" fill="#1a1a1a" >Ithaca 2011</text>
<rect x="53.8" y="380.9" width="7.6" height="7.6" fill="#fafafa" stroke="#e6e6e6" stroke-width="0.5"/>
<circle cx="57.6" cy="384.7" r="2.9" fill="#9590FF" />
<text transform="translate(65.2,388.1) scale(1,1.0)" font-size="9.4" text-anchor="start" fill="#1a1a1a" >Lacombe 2010</text>
<rect x="53.8" y="388.6" width="7.6" height="7.6" fill="#fafafa" stroke="#e6e6e6" stroke-width="0.5"/>
<circle cx="57.6" cy="392.4" r="2.9" fill="#E76BF3" />
<text transform="translate(65.2,395.8) scale(1,1.0)" font-size="9.4" text-anchor="start" fill="#1a1a1a" >Ottawa 2011</text>
<rect x="53.8" y="396.3" width="7.6" height="7.6" fill="#fafafa" stroke="#e6e6e6" stroke-width="0.5"/>
<circle cx="57.6" cy="400.1" r="2.9" fill="#FF62BC" />
<text transform="translate(65.2,403.5) scale(1,1.0)" font-size="9.4" text-anchor="start" fill="#1a1a1a" >Saskatoon 2010</text>
<line x1="401.8" y1="303.9" x2="401.8" y2="526.3" stroke="#555" stroke-width="0.9" />
<line x1="401.8" y1="526.3" x2="679" y2="526.3" stroke="#222" stroke-width="1.1" />
<line x1="398.4" y1="332" x2="401.8" y2="332" stroke="#555" stroke-width="0.9" />
<text transform="translate(393.2,335.3) scale(1,1.0)" font-size="9.4" text-anchor="end" fill="#1a1a1a" >0.05</text>
<line x1="398.4" y1="380.6" x2="401.8" y2="380.6" stroke="#555" stroke-width="0.9" />
<text transform="translate(393.2,383.9) scale(1,1.0)" font-size="9.4" text-anchor="end" fill="#1a1a1a" >0</text>
<line x1="398.4" y1="429.2" x2="401.8" y2="429.2" stroke="#555" stroke-width="0.9" />
<text transform="translate(393.2,432.5) scale(1,1.0)" font-size="9.4" text-anchor="end" fill="#1a1a1a" >&#8722;0.05</text>
<line x1="398.4" y1="477.8" x2="401.8" y2="477.8" stroke="#555" stroke-width="0.9" />
<text transform="translate(393.2,481.1) scale(1,1.0)" font-size="9.4" text-anchor="end" fill="#1a1a1a" >&#8722;0.10</text>
<line x1="398.4" y1="526.4" x2="401.8" y2="526.4" stroke="#555" stroke-width="0.9" />
<text transform="translate(393.2,529.7) scale(1,1.0)" font-size="9.4" text-anchor="end" fill="#1a1a1a" >&#8722;0.15</text>
<line x1="456.3" y1="526.3" x2="456.3" y2="529.8" stroke="#222" stroke-width="0.9" />
<text transform="translate(456.3,541.9) scale(1,1.0)" font-size="9.4" text-anchor="middle" fill="#1a1a1a" >0</text>
<line x1="528.5" y1="526.3" x2="528.5" y2="529.8" stroke="#222" stroke-width="0.9" />
<text transform="translate(528.5,541.9) scale(1,1.0)" font-size="9.4" text-anchor="middle" fill="#1a1a1a" >0.05</text>
<line x1="600.7" y1="526.3" x2="600.7" y2="529.8" stroke="#222" stroke-width="0.9" />
<text transform="translate(600.7,541.9) scale(1,1.0)" font-size="9.4" text-anchor="middle" fill="#1a1a1a" >0.10</text>
<line x1="672.9" y1="526.3" x2="672.9" y2="529.8" stroke="#222" stroke-width="0.9" />
<text transform="translate(672.9,541.9) scale(1,1.0)" font-size="9.4" text-anchor="middle" fill="#1a1a1a" >0.15</text>
<text transform="translate(539.7,557.5) scale(1,1.0)" font-size="9.4" text-anchor="middle" fill="#1a1a1a" >PC1</text>
<text transform="translate(363,415.5) rotate(-90) " font-size="9.4" text-anchor="middle" fill="#1a1a1a">PC2</text>
<circle cx="415" cy="315" r="4.8" fill="#F8766D" fill-opacity="0.77"/>
<circle cx="421" cy="314" r="4.8" fill="#F8766D" fill-opacity="0.77"/>
<circle cx="414" cy="322" r="4.8" fill="#F8766D" fill-opacity="0.77"/>
<circle cx="420" cy="321" r="4.8" fill="#F8766D" fill-opacity="0.77"/>
<circle cx="425" cy="319" r="4.8" fill="#F8766D" fill-opacity="0.77"/>
<circle cx="416" cy="329" r="4.8" fill="#F8766D" fill-opacity="0.77"/>
<circle cx="422" cy="328" r="4.8" fill="#F8766D" fill-opacity="0.77"/>
<circle cx="428" cy="330" r="4.8" fill="#F8766D" fill-opacity="0.77"/>
<circle cx="418" cy="334" r="4.8" fill="#F8766D" fill-opacity="0.77"/>
<circle cx="425" cy="334" r="4.8" fill="#F8766D" fill-opacity="0.77"/>
<circle cx="431" cy="334" r="4.8" fill="#F8766D" fill-opacity="0.77"/>
<circle cx="435" cy="333" r="4.8" fill="#F8766D" fill-opacity="0.77"/>
<circle cx="428" cy="335" r="4.8" fill="#F8766D" fill-opacity="0.77"/>
<circle cx="415" cy="315" r="4.8" fill="#F8766D" fill-opacity="0.77"/>
<circle cx="419" cy="318" r="4.8" fill="#F8766D" fill-opacity="0.77"/>
<circle cx="428.9" cy="346.7" r="4.8" fill="#F8766D" fill-opacity="0.77"/>
<circle cx="428.9" cy="346.7" r="4.8" fill="#F8766D" fill-opacity="0.77"/>
<circle cx="437.7" cy="357.1" r="4.8" fill="#F8766D" fill-opacity="0.77"/>
<circle cx="416.5" cy="356.2" r="4.8" fill="#F8766D" fill-opacity="0.77"/>
<circle cx="437.7" cy="357.1" r="4.8" fill="#F8766D" fill-opacity="0.77"/>
<circle cx="429.8" cy="360.6" r="4.8" fill="#F8766D" fill-opacity="0.77"/>
<circle cx="443.8" cy="363.6" r="4.8" fill="#F8766D" fill-opacity="0.77"/>
<circle cx="423.6" cy="366.3" r="4.8" fill="#F8766D" fill-opacity="0.77"/>
<circle cx="416.2" cy="369.8" r="4.8" fill="#F8766D" fill-opacity="0.77"/>
<circle cx="429.8" cy="366.3" r="4.8" fill="#F8766D" fill-opacity="0.77"/>
<circle cx="416.6" cy="375" r="4.8" fill="#F8766D" fill-opacity="0.77"/>
<circle cx="425.4" cy="374.2" r="4.8" fill="#F8766D" fill-opacity="0.77"/>
<circle cx="430.2" cy="378.5" r="4.8" fill="#F8766D" fill-opacity="0.77"/>
<circle cx="442" cy="377.7" r="4.8" fill="#F8766D" fill-opacity="0.77"/>
<circle cx="449.4" cy="382.9" r="4.8" fill="#F8766D" fill-opacity="0.77"/>
<circle cx="453" cy="382.9" r="4.8" fill="#F8766D" fill-opacity="0.77"/>
<circle cx="418.4" cy="382" r="4.8" fill="#F8766D" fill-opacity="0.77"/>
<circle cx="425.4" cy="385.5" r="4.8" fill="#F8766D" fill-opacity="0.77"/>
<circle cx="419.4" cy="392.5" r="4.8" fill="#F8766D" fill-opacity="0.77"/>
<circle cx="432.4" cy="393.4" r="4.8" fill="#F8766D" fill-opacity="0.77"/>
<circle cx="447.3" cy="394.7" r="4.8" fill="#F8766D" fill-opacity="0.77"/>
<circle cx="425.4" cy="394.3" r="4.8" fill="#F8766D" fill-opacity="0.77"/>
<circle cx="428.9" cy="390.8" r="4.8" fill="#F8766D" fill-opacity="0.77"/>
<circle cx="418.8" cy="396.1" r="4.8" fill="#F8766D" fill-opacity="0.77"/>
<circle cx="430.6" cy="397.9" r="4.8" fill="#F8766D" fill-opacity="0.77"/>
<circle cx="418.4" cy="405.8" r="4.8" fill="#F8766D" fill-opacity="0.77"/>
<circle cx="422.8" cy="408.4" r="4.8" fill="#F8766D" fill-opacity="0.77"/>
<circle cx="436.8" cy="410.1" r="4.8" fill="#F8766D" fill-opacity="0.77"/>
<circle cx="416.6" cy="414.5" r="4.8" fill="#F8766D" fill-opacity="0.77"/>
<circle cx="426.3" cy="416.3" r="4.8" fill="#F8766D" fill-opacity="0.77"/>
<circle cx="417.5" cy="423.3" r="4.8" fill="#F8766D" fill-opacity="0.77"/>
<circle cx="421.9" cy="420.6" r="4.8" fill="#F8766D" fill-opacity="0.77"/>
<circle cx="429.8" cy="412.8" r="4.8" fill="#F8766D" fill-opacity="0.77"/>
<circle cx="462" cy="340.9" r="4.8" fill="#F8766D" fill-opacity="0.77"/>
<circle cx="425" cy="481" r="4.8" fill="#F8766D" fill-opacity="0.77"/>
<circle cx="423.6" cy="484.1" r="4.8" fill="#F8766D" fill-opacity="0.77"/>
<circle cx="434.2" cy="481.9" r="4.8" fill="#F8766D" fill-opacity="0.77"/>
<circle cx="428" cy="499.4" r="4.8" fill="#F8766D" fill-opacity="0.77"/>
<circle cx="437.7" cy="502" r="4.8" fill="#F8766D" fill-opacity="0.77"/>
<circle cx="427.1" cy="503.8" r="4.8" fill="#F8766D" fill-opacity="0.77"/>
<circle cx="429.8" cy="509" r="4.8" fill="#F8766D" fill-opacity="0.77"/>
<circle cx="431.5" cy="515.2" r="4.8" fill="#F8766D" fill-opacity="0.77"/>
<circle cx="428.9" cy="512.5" r="4.8" fill="#F8766D" fill-opacity="0.77"/>
<circle cx="426.5" cy="506" r="4.8" fill="#F8766D" fill-opacity="0.77"/>
<circle cx="418" cy="372" r="4.8" fill="#F8766D" fill-opacity="0.77"/>
<circle cx="422" cy="378" r="4.8" fill="#F8766D" fill-opacity="0.77"/>
<circle cx="418" cy="388" r="4.8" fill="#F8766D" fill-opacity="0.77"/>
<circle cx="424" cy="390" r="4.8" fill="#F8766D" fill-opacity="0.77"/>
<circle cx="421" cy="398" r="4.8" fill="#F8766D" fill-opacity="0.77"/>
<circle cx="428" cy="385" r="4.8" fill="#F8766D" fill-opacity="0.77"/>
<circle cx="433" cy="382" r="4.8" fill="#F8766D" fill-opacity="0.77"/>
<circle cx="420" cy="366" r="4.8" fill="#F8766D" fill-opacity="0.77"/>
<circle cx="426" cy="370" r="4.8" fill="#F8766D" fill-opacity="0.77"/>
<circle cx="430" cy="393" r="4.8" fill="#F8766D" fill-opacity="0.77"/>
<circle cx="432" cy="500" r="4.8" fill="#F8766D" fill-opacity="0.77"/>
<circle cx="435" cy="503" r="4.8" fill="#F8766D" fill-opacity="0.77"/>
<circle cx="430" cy="505" r="4.8" fill="#F8766D" fill-opacity="0.77"/>
<circle cx="433" cy="508" r="4.8" fill="#F8766D" fill-opacity="0.77"/>
<circle cx="428" cy="514" r="4.8" fill="#F8766D" fill-opacity="0.77"/>
<circle cx="430" cy="515" r="4.8" fill="#F8766D" fill-opacity="0.77"/>
<circle cx="431" cy="513" r="4.8" fill="#F8766D" fill-opacity="0.77"/>
<circle cx="428" cy="501" r="4.8" fill="#F8766D" fill-opacity="0.77"/>
<circle cx="429" cy="511" r="4.8" fill="#F8766D" fill-opacity="0.77"/>
<circle cx="417" cy="405" r="4.8" fill="#F8766D" fill-opacity="0.77"/>
<circle cx="422" cy="406" r="4.8" fill="#F8766D" fill-opacity="0.77"/>
<circle cx="417" cy="411" r="4.8" fill="#F8766D" fill-opacity="0.77"/>
<circle cx="423" cy="412" r="4.8" fill="#F8766D" fill-opacity="0.77"/>
<circle cx="428" cy="411" r="4.8" fill="#F8766D" fill-opacity="0.77"/>
<circle cx="417" cy="417" r="4.8" fill="#F8766D" fill-opacity="0.77"/>
<circle cx="422" cy="418" r="4.8" fill="#F8766D" fill-opacity="0.77"/>
<circle cx="427" cy="418" r="4.8" fill="#F8766D" fill-opacity="0.77"/>
<circle cx="416" cy="423" r="4.8" fill="#F8766D" fill-opacity="0.77"/>
<circle cx="421" cy="424" r="4.8" fill="#F8766D" fill-opacity="0.77"/>
<circle cx="436.8" cy="410.1" r="4.8" fill="#F8766D" fill-opacity="0.77"/>
<circle cx="471.4" cy="332.1" r="4.9" fill="#00BFC4" fill-opacity="0.75"/>
<circle cx="488.3" cy="328.6" r="4.9" fill="#00BFC4" fill-opacity="0.75"/>
<circle cx="488.9" cy="381.8" r="4.9" fill="#00BFC4" fill-opacity="0.75"/>
<circle cx="502.7" cy="385.1" r="4.9" fill="#00BFC4" fill-opacity="0.75"/>
<circle cx="538.7" cy="391" r="4.9" fill="#00BFC4" fill-opacity="0.75"/>
<circle cx="524.6" cy="423.2" r="4.9" fill="#00BFC4" fill-opacity="0.75"/>
<circle cx="522.9" cy="431.1" r="4.9" fill="#00BFC4" fill-opacity="0.75"/>
<circle cx="553.1" cy="398.5" r="4.9" fill="#00BFC4" fill-opacity="0.75"/>
<circle cx="572.1" cy="383.9" r="4.9" fill="#00BFC4" fill-opacity="0.75"/>
<circle cx="587.6" cy="374.5" r="4.9" fill="#00BFC4" fill-opacity="0.75"/>
<circle cx="594" cy="373.1" r="4.9" fill="#00BFC4" fill-opacity="0.75"/>
<circle cx="603.9" cy="377.1" r="4.9" fill="#00BFC4" fill-opacity="0.75"/>
<circle cx="612.7" cy="373.1" r="4.9" fill="#00BFC4" fill-opacity="0.75"/>
<circle cx="611.1" cy="361" r="4.9" fill="#00BFC4" fill-opacity="0.75"/>
<circle cx="588.1" cy="407.2" r="4.9" fill="#00BFC4" fill-opacity="0.75"/>
<circle cx="591.6" cy="407.2" r="4.9" fill="#00BFC4" fill-opacity="0.75"/>
<circle cx="592" cy="413.7" r="4.9" fill="#00BFC4" fill-opacity="0.75"/>
<circle cx="622.2" cy="372.1" r="4.9" fill="#00BFC4" fill-opacity="0.75"/>
<circle cx="620.4" cy="379.7" r="4.9" fill="#00BFC4" fill-opacity="0.75"/>
<circle cx="631.5" cy="377.1" r="4.9" fill="#00BFC4" fill-opacity="0.75"/>
<circle cx="637.4" cy="376.2" r="4.9" fill="#00BFC4" fill-opacity="0.75"/>
<circle cx="646.7" cy="376.2" r="4.9" fill="#00BFC4" fill-opacity="0.75"/>
<circle cx="654.9" cy="374.5" r="4.9" fill="#00BFC4" fill-opacity="0.75"/>
<circle cx="649" cy="358.7" r="4.9" fill="#00BFC4" fill-opacity="0.75"/>
<circle cx="656.1" cy="357.5" r="4.9" fill="#00BFC4" fill-opacity="0.75"/>
<circle cx="663.1" cy="361" r="4.9" fill="#00BFC4" fill-opacity="0.75"/>
<circle cx="666.6" cy="366.9" r="4.9" fill="#00BFC4" fill-opacity="0.75"/>
<circle cx="650.2" cy="366.9" r="4.9" fill="#00BFC4" fill-opacity="0.75"/>
<circle cx="658.4" cy="370.4" r="4.9" fill="#00BFC4" fill-opacity="0.75"/>
<circle cx="619.9" cy="406" r="4.9" fill="#00BFC4" fill-opacity="0.75"/>
<circle cx="642" cy="377" r="4.9" fill="#00BFC4" fill-opacity="0.75"/>
<circle cx="650" cy="375" r="4.9" fill="#00BFC4" fill-opacity="0.75"/>
<circle cx="659" cy="374" r="4.9" fill="#00BFC4" fill-opacity="0.75"/>
<circle cx="662" cy="372" r="4.9" fill="#00BFC4" fill-opacity="0.75"/>
<circle cx="652" cy="363" r="4.9" fill="#00BFC4" fill-opacity="0.75"/>
<circle cx="660" cy="365" r="4.9" fill="#00BFC4" fill-opacity="0.75"/>
<circle cx="664" cy="370" r="4.9" fill="#00BFC4" fill-opacity="0.75"/>
<circle cx="655" cy="362" r="4.9" fill="#00BFC4" fill-opacity="0.75"/>
<circle cx="661" cy="358" r="4.9" fill="#00BFC4" fill-opacity="0.75"/>
<circle cx="668" cy="362" r="4.9" fill="#00BFC4" fill-opacity="0.75"/>
<circle cx="652" cy="372" r="4.9" fill="#00BFC4" fill-opacity="0.75"/>
<circle cx="493" cy="490.2" r="4.9" fill="#00BFC4" fill-opacity="0.75"/>
<circle cx="512.2" cy="481.7" r="4.9" fill="#00BFC4" fill-opacity="0.75"/>
<text transform="translate(404,311.9) scale(1,1.0)" font-size="9.4" text-anchor="start" fill="#1a1a1a" >HiFi</text>
<text transform="translate(423,317.8) scale(1,1.0)" font-size="9.4" text-anchor="start" fill="#1a1a1a" >GMI423</text>
<text transform="translate(415.8,326.6) scale(1,1.0)" font-size="9.4" text-anchor="start" fill="#1a1a1a" >Park</text>
<text transform="translate(404,337.5) scale(1,1.0)" font-size="9.4" text-anchor="start" fill="#1a1a1a" >Bingo</text>
<text transform="translate(421.9,337.5) scale(1,1.0)" font-size="9.4" text-anchor="start" fill="#1a1a1a" >Clintland60</text>
<text transform="translate(463.8,322.8) scale(1,1.0)" font-size="9.4" text-anchor="start" fill="#1a1a1a" >CN25955</text>
<text transform="translate(447.3,349.2) scale(1,1.0)" font-size="9.4" text-anchor="start" fill="#1a1a1a" >TN1</text>
<text transform="translate(439,361.5) scale(1,1.0)" font-size="9.4" text-anchor="start" fill="#1a1a1a" >FM13</text>
<text transform="translate(420.3,373.7) scale(1,1.0)" font-size="9.4" text-anchor="start" fill="#1a1a1a" >OT380</text>
<text transform="translate(403.9,385.1) scale(1,1.0)" font-size="9.4" text-anchor="start" fill="#1a1a1a" >Nicolas</text>
<text transform="translate(403.7,411) scale(1,1.0)" font-size="9.4" text-anchor="start" fill="#1a1a1a" >H&#226;tives</text>
<text transform="translate(437.7,414.5) scale(1,1.0)" font-size="9.4" text-anchor="start" fill="#1a1a1a" >Delfin</text>
<text transform="translate(403.7,424.2) scale(1,1.0)" font-size="9.4" text-anchor="start" fill="#1a1a1a" >PI182478</text>
<text transform="translate(427.6,434.7) scale(1,1.0)" font-size="9.4" text-anchor="start" fill="#1a1a1a" >Lion</text>
<text transform="translate(403.1,486.3) scale(1,1.0)" font-size="9.4" text-anchor="start" fill="#1a1a1a" >Aslak</text>
<text transform="translate(417.1,496.3) scale(1,1.0)" font-size="9.4" text-anchor="start" fill="#1a1a1a" >OT3098</text>
<text transform="translate(492.2,383.1) scale(1,1.0)" font-size="9.4" text-anchor="start" fill="#1a1a1a" >Williams</text>
<text transform="translate(522.7,400) scale(1,1.0)" font-size="9.4" text-anchor="start" fill="#1a1a1a" >Bilby</text>
<text transform="translate(511.8,421.6) scale(1,1.0)" font-size="9.4" text-anchor="start" fill="#1a1a1a" >Bannister</text>
<text transform="translate(570,381.8) scale(1,1.0)" font-size="9.4" text-anchor="start" fill="#1a1a1a" >TN4</text>
<text transform="translate(602.6,358.7) scale(1,1.0)" font-size="9.4" text-anchor="start" fill="#1a1a1a" >Victoria</text>
<text transform="translate(646.7,365.9) scale(1,1.0)" font-size="9.4" text-anchor="start" fill="#1a1a1a" >Gehl</text>
<text transform="translate(494,474.7) scale(1,1.0)" font-size="9.4" text-anchor="start" fill="#1a1a1a" >PI258586</text>
<line x1="477.8" y1="325.1" x2="471.4" y2="331.5" stroke="#1a1a1a" stroke-width="0.6" />
<line x1="416.8" y1="315.8" x2="421.7" y2="314.2" stroke="#1a1a1a" stroke-width="0.6" />
<line x1="414.5" y1="319.4" x2="420.1" y2="331.6" stroke="#1a1a1a" stroke-width="0.6" />
<line x1="428" y1="414.1" x2="436.8" y2="411.9" stroke="#1a1a1a" stroke-width="0.6" />
<line x1="423.6" y1="425" x2="426.3" y2="430.3" stroke="#1a1a1a" stroke-width="0.6" />
<text x="422.5" y="337.5" font-size="9.4" fill="#1a1a1a">C</text>
<circle cx="565.8" cy="314.8" r="4.8" fill="#F8766D" fill-opacity="0.78"/>
<text transform="translate(575.5,318.2) scale(1,1.0)" font-size="9.4" text-anchor="start" fill="#1a1a1a" >Inverted</text>
<circle cx="620.5" cy="314.8" r="4.8" fill="#00BFC4" fill-opacity="0.75"/>
<text transform="translate(630.5,318.2) scale(1,1.0)" font-size="9.4" text-anchor="start" fill="#1a1a1a" >Non-inverted</text>
<rect x="575" y="418" width="106" height="106" fill="#fff" fill-opacity="0.0"/>
<line x1="580.4" y1="420.5" x2="580.4" y2="511.2" stroke="#222" stroke-width="0.9" />
<line x1="580.4" y1="511.2" x2="663.4" y2="511.2" stroke="#222" stroke-width="0.9" />
<line x1="577.4" y1="494.9" x2="580.4" y2="494.9" stroke="#222" stroke-width="0.8" />
<text transform="translate(574.7,498.2) scale(1,1.0)" font-size="9.4" text-anchor="end" fill="#1a1a1a" >55</text>
<line x1="577.4" y1="474.1" x2="580.4" y2="474.1" stroke="#222" stroke-width="0.8" />
<text transform="translate(574.7,477.4) scale(1,1.0)" font-size="9.4" text-anchor="end" fill="#1a1a1a" >60</text>
<line x1="577.4" y1="453.3" x2="580.4" y2="453.3" stroke="#222" stroke-width="0.8" />
<text transform="translate(574.7,456.6) scale(1,1.0)" font-size="9.4" text-anchor="end" fill="#1a1a1a" >65</text>
<line x1="577.4" y1="432.5" x2="580.4" y2="432.5" stroke="#222" stroke-width="0.8" />
<text transform="translate(574.7,435.8) scale(1,1.0)" font-size="9.4" text-anchor="end" fill="#1a1a1a" >70</text>
<text transform="translate(554.5,466.5) rotate(-90) " font-size="9.4" text-anchor="middle" fill="#1a1a1a">Days to heading</text>
<line x1="602.7" y1="511.2" x2="602.7" y2="514.2" stroke="#222" stroke-width="0.8" />
<line x1="640.8" y1="511.2" x2="640.8" y2="514.2" stroke="#222" stroke-width="0.8" />
<text transform="translate(598.8,524.2) scale(1,1.0)" font-size="9.4" text-anchor="middle" fill="#1a1a1a" >Inverted</text>
<text transform="translate(646.9,524.2) scale(1,1.0)" font-size="9.4" text-anchor="middle" fill="#1a1a1a" >Non-inverted</text>
<line x1="602.7" y1="424.5" x2="602.7" y2="503.3" stroke="#8a8a8a" stroke-width="1" />
<rect x="588.3" y="453.4" width="28.9" height="20.7" fill="#F8766D" stroke="#555" stroke-width="0.8"/>
<line x1="588.3" y1="461.8" x2="617.2" y2="461.8" stroke="#555" stroke-width="1.1" />
<line x1="640.8" y1="462" x2="640.8" y2="499.4" stroke="#8a8a8a" stroke-width="1" />
<rect x="626.4" y="477.3" width="28.9" height="10.5" fill="#00BFC4" stroke="#555" stroke-width="0.8"/>
<line x1="626.4" y1="482.3" x2="655.3" y2="482.3" stroke="#444" stroke-width="1.1" />
<circle cx="640.8" cy="436.3" r="0.9" fill="#333" />
<circle cx="640.8" cy="438.9" r="0.9" fill="#333" />
<circle cx="640.8" cy="441" r="0.9" fill="#333" />
<circle cx="640.8" cy="453.4" r="0.9" fill="#333" />
<circle cx="640.8" cy="507.2" r="0.9" fill="#333" />
<line x1="51.1" y1="571.9" x2="51.1" y2="794.3" stroke="#8c8c8c" stroke-width="1" />
<line x1="51.1" y1="794.3" x2="187.4" y2="794.3" stroke="#8c8c8c" stroke-width="1" />
<line x1="190.2" y1="571.9" x2="190.2" y2="794.3" stroke="#8c8c8c" stroke-width="1" />
<line x1="190.2" y1="794.3" x2="327.2" y2="794.3" stroke="#8c8c8c" stroke-width="1" />
<line x1="47.6" y1="783.6" x2="51.1" y2="783.6" stroke="#8c8c8c" stroke-width="1" />
<text transform="translate(42.4,786.9) scale(1,1.0)" font-size="9.4" text-anchor="end" fill="#1a1a1a" >0</text>
<line x1="47.6" y1="729" x2="51.1" y2="729" stroke="#8c8c8c" stroke-width="1" />
<text transform="translate(42.4,732.3) scale(1,1.0)" font-size="9.4" text-anchor="end" fill="#1a1a1a" >2,000</text>
<line x1="47.6" y1="674.4" x2="51.1" y2="674.4" stroke="#8c8c8c" stroke-width="1" />
<text transform="translate(42.4,677.7) scale(1,1.0)" font-size="9.4" text-anchor="end" fill="#1a1a1a" >4,000</text>
<line x1="47.6" y1="619.8" x2="51.1" y2="619.8" stroke="#8c8c8c" stroke-width="1" />
<text transform="translate(42.4,623.1) scale(1,1.0)" font-size="9.4" text-anchor="end" fill="#1a1a1a" >6,000</text>
<text transform="translate(9.2,683) rotate(-90) " font-size="9.4" text-anchor="middle" fill="#1a1a1a">Expression (TPM)</text>
<line x1="87.7" y1="794.3" x2="87.7" y2="797.6" stroke="#8c8c8c" stroke-width="1" />
<text transform="translate(87.7,809.6) scale(1,1.0)" font-size="9.4" text-anchor="middle" fill="#1a1a1a" >Inverted</text>
<line x1="150.4" y1="794.3" x2="150.4" y2="797.6" stroke="#8c8c8c" stroke-width="1" />
<text transform="translate(150.4,809.6) scale(1,1.0)" font-size="9.4" text-anchor="middle" fill="#1a1a1a" >Non-inverted</text>
<line x1="227.9" y1="794.3" x2="227.9" y2="797.6" stroke="#8c8c8c" stroke-width="1" />
<text transform="translate(227.9,809.6) scale(1,1.0)" font-size="9.4" text-anchor="middle" fill="#1a1a1a" >Inverted</text>
<line x1="289.8" y1="794.3" x2="289.8" y2="797.6" stroke="#8c8c8c" stroke-width="1" />
<text transform="translate(289.8,809.6) scale(1,1.0)" font-size="9.4" text-anchor="middle" fill="#1a1a1a" >Non-inverted</text>
<text transform="translate(119.4,567) scale(1,1.0)" font-size="9.4" text-anchor="middle" fill="#1a1a1a" font-style="italic">FT1-7A</text>
<text transform="translate(258.8,567) scale(1,1.0)" font-size="9.4" text-anchor="middle" fill="#1a1a1a" font-style="italic">FT1-7D</text>
<line x1="57.25" y1="784.2" x2="66.65" y2="784.2" stroke="#F8766D" stroke-width="0.8" />
<rect x="58.65" y="783.4" width="1.6" height="1.6" fill="#F8766D" opacity="0.8"/>
<rect x="61.15" y="783.4" width="1.6" height="1.6" fill="#F8766D" opacity="0.8"/>
<rect x="63.35" y="783.4" width="1.6" height="1.6" fill="#F8766D" opacity="0.8"/>
<line x1="67.55" y1="784.2" x2="76.95" y2="784.2" stroke="#B79F00" stroke-width="0.8" />
<rect x="68.95" y="783.4" width="1.6" height="1.6" fill="#B79F00" opacity="0.8"/>
<rect x="71.45" y="783.4" width="1.6" height="1.6" fill="#B79F00" opacity="0.8"/>
<rect x="73.65" y="783.4" width="1.6" height="1.6" fill="#B79F00" opacity="0.8"/>
<line x1="77.85" y1="784.2" x2="87.25" y2="784.2" stroke="#00BA38" stroke-width="0.8" />
<rect x="79.25" y="783.4" width="1.6" height="1.6" fill="#00BA38" opacity="0.8"/>
<rect x="81.75" y="783.4" width="1.6" height="1.6" fill="#00BA38" opacity="0.8"/>
<rect x="83.95" y="783.4" width="1.6" height="1.6" fill="#00BA38" opacity="0.8"/>
<line x1="98.45" y1="784.2" x2="107.85" y2="784.2" stroke="#619CFF" stroke-width="0.8" />
<rect x="99.85" y="783.4" width="1.6" height="1.6" fill="#619CFF" opacity="0.8"/>
<rect x="102.35" y="783.4" width="1.6" height="1.6" fill="#619CFF" opacity="0.8"/>
<rect x="104.55" y="783.4" width="1.6" height="1.6" fill="#619CFF" opacity="0.8"/>
<line x1="108.75" y1="784.2" x2="118.15" y2="784.2" stroke="#F564E3" stroke-width="0.8" />
<rect x="110.15" y="783.4" width="1.6" height="1.6" fill="#F564E3" opacity="0.8"/>
<rect x="112.65" y="783.4" width="1.6" height="1.6" fill="#F564E3" opacity="0.8"/>
<rect x="114.85" y="783.4" width="1.6" height="1.6" fill="#F564E3" opacity="0.8"/>
<line x1="119.95" y1="784.2" x2="129.35" y2="784.2" stroke="#F8766D" stroke-width="0.8" />
<rect x="121.35" y="783.4" width="1.6" height="1.6" fill="#F8766D" opacity="0.8"/>
<rect x="123.85" y="783.4" width="1.6" height="1.6" fill="#F8766D" opacity="0.8"/>
<rect x="126.05" y="783.4" width="1.6" height="1.6" fill="#F8766D" opacity="0.8"/>
<line x1="130.25" y1="784.2" x2="139.65" y2="784.2" stroke="#B79F00" stroke-width="0.8" />
<rect x="131.65" y="783.4" width="1.6" height="1.6" fill="#B79F00" opacity="0.8"/>
<rect x="134.15" y="783.4" width="1.6" height="1.6" fill="#B79F00" opacity="0.8"/>
<rect x="136.35" y="783.4" width="1.6" height="1.6" fill="#B79F00" opacity="0.8"/>
<line x1="140.55" y1="784.2" x2="149.95" y2="784.2" stroke="#00BA38" stroke-width="0.8" />
<rect x="141.95" y="783.4" width="1.6" height="1.6" fill="#00BA38" opacity="0.8"/>
<rect x="144.45" y="783.4" width="1.6" height="1.6" fill="#00BA38" opacity="0.8"/>
<rect x="146.65" y="783.4" width="1.6" height="1.6" fill="#00BA38" opacity="0.8"/>
<line x1="161.15" y1="784.2" x2="170.55" y2="784.2" stroke="#619CFF" stroke-width="0.8" />
<rect x="162.55" y="783.4" width="1.6" height="1.6" fill="#619CFF" opacity="0.8"/>
<rect x="165.05" y="783.4" width="1.6" height="1.6" fill="#619CFF" opacity="0.8"/>
<rect x="167.25" y="783.4" width="1.6" height="1.6" fill="#619CFF" opacity="0.8"/>
<line x1="171.45" y1="784.2" x2="180.85" y2="784.2" stroke="#F564E3" stroke-width="0.8" />
<rect x="172.85" y="783.4" width="1.6" height="1.6" fill="#F564E3" opacity="0.8"/>
<rect x="175.35" y="783.4" width="1.6" height="1.6" fill="#F564E3" opacity="0.8"/>
<rect x="177.55" y="783.4" width="1.6" height="1.6" fill="#F564E3" opacity="0.8"/>
<line x1="197.45" y1="784.2" x2="206.85" y2="784.2" stroke="#F8766D" stroke-width="0.8" />
<rect x="198.85" y="783.4" width="1.6" height="1.6" fill="#F8766D" opacity="0.8"/>
<rect x="201.35" y="783.4" width="1.6" height="1.6" fill="#F8766D" opacity="0.8"/>
<rect x="203.55" y="783.4" width="1.6" height="1.6" fill="#F8766D" opacity="0.8"/>
<line x1="207.75" y1="784.2" x2="217.15" y2="784.2" stroke="#B79F00" stroke-width="0.8" />
<rect x="209.15" y="783.4" width="1.6" height="1.6" fill="#B79F00" opacity="0.8"/>
<rect x="211.65" y="783.4" width="1.6" height="1.6" fill="#B79F00" opacity="0.8"/>
<rect x="213.85" y="783.4" width="1.6" height="1.6" fill="#B79F00" opacity="0.8"/>
<line x1="218.05" y1="784.2" x2="227.45" y2="784.2" stroke="#00BA38" stroke-width="0.8" />
<rect x="219.45" y="783.4" width="1.6" height="1.6" fill="#00BA38" opacity="0.8"/>
<rect x="221.95" y="783.4" width="1.6" height="1.6" fill="#00BA38" opacity="0.8"/>
<rect x="224.15" y="783.4" width="1.6" height="1.6" fill="#00BA38" opacity="0.8"/>
<line x1="238.65" y1="784.2" x2="248.05" y2="784.2" stroke="#619CFF" stroke-width="0.8" />
<rect x="240.05" y="783.4" width="1.6" height="1.6" fill="#619CFF" opacity="0.8"/>
<rect x="242.55" y="783.4" width="1.6" height="1.6" fill="#619CFF" opacity="0.8"/>
<rect x="244.75" y="783.4" width="1.6" height="1.6" fill="#619CFF" opacity="0.8"/>
<line x1="248.95" y1="784.2" x2="258.35" y2="784.2" stroke="#F564E3" stroke-width="0.8" />
<rect x="250.35" y="783.4" width="1.6" height="1.6" fill="#F564E3" opacity="0.8"/>
<rect x="252.85" y="783.4" width="1.6" height="1.6" fill="#F564E3" opacity="0.8"/>
<rect x="255.05" y="783.4" width="1.6" height="1.6" fill="#F564E3" opacity="0.8"/>
<line x1="259.35" y1="784.2" x2="268.75" y2="784.2" stroke="#F8766D" stroke-width="0.8" />
<rect x="260.75" y="783.4" width="1.6" height="1.6" fill="#F8766D" opacity="0.8"/>
<rect x="263.25" y="783.4" width="1.6" height="1.6" fill="#F8766D" opacity="0.8"/>
<rect x="265.45" y="783.4" width="1.6" height="1.6" fill="#F8766D" opacity="0.8"/>
<line x1="269.65" y1="784.2" x2="279.05" y2="784.2" stroke="#B79F00" stroke-width="0.8" />
<rect x="271.05" y="783.4" width="1.6" height="1.6" fill="#B79F00" opacity="0.8"/>
<rect x="273.55" y="783.4" width="1.6" height="1.6" fill="#B79F00" opacity="0.8"/>
<rect x="275.75" y="783.4" width="1.6" height="1.6" fill="#B79F00" opacity="0.8"/>
<line x1="279.95" y1="784.2" x2="289.35" y2="784.2" stroke="#00BA38" stroke-width="0.8" />
<rect x="281.35" y="783.4" width="1.6" height="1.6" fill="#00BA38" opacity="0.8"/>
<rect x="283.85" y="783.4" width="1.6" height="1.6" fill="#00BA38" opacity="0.8"/>
<rect x="286.05" y="783.4" width="1.6" height="1.6" fill="#00BA38" opacity="0.8"/>
<line x1="300.55" y1="784.2" x2="309.95" y2="784.2" stroke="#619CFF" stroke-width="0.8" />
<rect x="301.95" y="783.4" width="1.6" height="1.6" fill="#619CFF" opacity="0.8"/>
<rect x="304.45" y="783.4" width="1.6" height="1.6" fill="#619CFF" opacity="0.8"/>
<rect x="306.65" y="783.4" width="1.6" height="1.6" fill="#619CFF" opacity="0.8"/>
<line x1="310.85" y1="784.2" x2="320.25" y2="784.2" stroke="#F564E3" stroke-width="0.8" />
<rect x="312.25" y="783.4" width="1.6" height="1.6" fill="#F564E3" opacity="0.8"/>
<rect x="314.75" y="783.4" width="1.6" height="1.6" fill="#F564E3" opacity="0.8"/>
<rect x="316.95" y="783.4" width="1.6" height="1.6" fill="#F564E3" opacity="0.8"/>
<line x1="93.3" y1="741.7" x2="93.3" y2="759.1" stroke="#00BFC4" stroke-width="0.9" />
<line x1="93.3" y1="778.9" x2="93.3" y2="784.2" stroke="#00BFC4" stroke-width="0.9" />
<rect x="88.9" y="759.1" width="8.3" height="19.8" fill="none" stroke="#00BFC4" stroke-width="0.9"/>
<line x1="88.9" y1="775.3" x2="97.2" y2="775.3" stroke="#00BFC4" stroke-width="0.9" />
<rect x="91.3" y="740.9" width="1.6" height="1.6" fill="#00BFC4" />
<rect x="91.3" y="750.4" width="1.6" height="1.6" fill="#00BFC4" />
<rect x="91.3" y="758.9" width="1.6" height="1.6" fill="#00BFC4" />
<rect x="91.3" y="768.2" width="1.6" height="1.6" fill="#00BFC4" />
<rect x="91.8" y="772.8" width="1.6" height="1.6" fill="#00BFC4" />
<rect x="90.2" y="777.2" width="1.6" height="1.6" fill="#00BFC4" />
<rect x="91.2" y="778.2" width="1.6" height="1.6" fill="#00BFC4" />
<rect x="90.3" y="783.1" width="1.6" height="1.6" fill="#00BFC4" />
<rect x="92.2" y="775.2" width="1.6" height="1.6" fill="#00BFC4" />
<rect x="91.3" y="720.2" width="2.6" height="1.8" fill="#00BFC4" />
<line x1="155.3" y1="737.8" x2="155.3" y2="745.1" stroke="#00BFC4" stroke-width="0.9" />
<line x1="155.3" y1="780.1" x2="155.3" y2="784.2" stroke="#00BFC4" stroke-width="0.9" />
<rect x="151.2" y="745.1" width="8.2" height="35" fill="none" stroke="#00BFC4" stroke-width="0.9"/>
<line x1="151.2" y1="763.2" x2="159.4" y2="763.2" stroke="#00BFC4" stroke-width="0.9" />
<rect x="154.7" y="737" width="1.6" height="1.6" fill="#00BFC4" />
<rect x="155.7" y="739.2" width="1.6" height="1.6" fill="#00BFC4" />
<rect x="152.7" y="779.2" width="1.6" height="1.6" fill="#00BFC4" />
<rect x="153.7" y="781.2" width="1.6" height="1.6" fill="#00BFC4" />
<line x1="232.5" y1="649" x2="232.5" y2="691.6" stroke="#00BFC4" stroke-width="0.9" />
<line x1="232.5" y1="749.4" x2="232.5" y2="784.2" stroke="#00BFC4" stroke-width="0.9" />
<rect x="228.5" y="691.6" width="8.5" height="57.8" fill="none" stroke="#00BFC4" stroke-width="0.9"/>
<line x1="228.5" y1="732.5" x2="237" y2="732.5" stroke="#00BFC4" stroke-width="0.9" />
<rect x="230.6" y="648.2" width="1.6" height="1.6" fill="#00BFC4" />
<rect x="230.9" y="673.7" width="1.6" height="1.6" fill="#00BFC4" />
<rect x="230.9" y="676.2" width="1.6" height="1.6" fill="#00BFC4" />
<rect x="231.2" y="695.5" width="1.6" height="1.6" fill="#00BFC4" />
<rect x="229.7" y="699.2" width="1.6" height="1.6" fill="#00BFC4" />
<rect x="230.9" y="709.2" width="1.6" height="1.6" fill="#00BFC4" />
<rect x="229.7" y="728.2" width="1.6" height="1.6" fill="#00BFC4" />
<rect x="230.2" y="741.2" width="1.6" height="1.6" fill="#00BFC4" />
<rect x="230.2" y="742.7" width="1.6" height="1.6" fill="#00BFC4" />
<rect x="229.7" y="747.2" width="1.6" height="1.6" fill="#00BFC4" />
<rect x="229.7" y="752.2" width="1.6" height="1.6" fill="#00BFC4" />
<rect x="230.2" y="760.2" width="1.6" height="1.6" fill="#00BFC4" />
<rect x="230.2" y="762.2" width="1.6" height="1.6" fill="#00BFC4" />
<rect x="230.2" y="782.8" width="1.6" height="1.6" fill="#00BFC4" />
<rect x="230.6" y="581" width="2.6" height="1.8" fill="#00BFC4" />
<line x1="295.4" y1="768" x2="295.4" y2="770.4" stroke="#00BFC4" stroke-width="0.9" />
<line x1="295.4" y1="776.3" x2="295.4" y2="784.2" stroke="#00BFC4" stroke-width="0.9" />
<rect x="291.2" y="770.4" width="8.4" height="5.9" fill="none" stroke="#00BFC4" stroke-width="0.9"/>
<line x1="291.2" y1="773" x2="299.6" y2="773" stroke="#00BFC4" stroke-width="0.9" />
<rect x="293.2" y="767.7" width="1.6" height="1.6" fill="#00BFC4" />
<rect x="293.7" y="770.7" width="1.6" height="1.6" fill="#00BFC4" />
<rect x="294.7" y="773.2" width="1.6" height="1.6" fill="#00BFC4" />
<rect x="293.7" y="782.8" width="1.6" height="1.6" fill="#00BFC4" />
<text transform="translate(334.6,662) scale(1,1.0)" font-size="9.4" text-anchor="start" fill="#1a1a1a" >Tissue</text>
<rect x="334.4" y="665" width="7" height="7.8" fill="#fff" stroke="#999" stroke-width="0.5"/>
<line x1="335.5" y1="668.9" x2="340.4" y2="668.9" stroke="#F8766D" stroke-width="0.8" />
<rect x="336" y="666.3" width="3.8" height="5.2" fill="none" stroke="#F8766D" stroke-width="0.6"/>
<text transform="translate(346.6,671.6) scale(1,1.0)" font-size="9.4" text-anchor="start" fill="#1a1a1a" >Leaf</text>
<rect x="334.4" y="672.8" width="7" height="7.8" fill="#fff" stroke="#999" stroke-width="0.5"/>
<line x1="335.5" y1="676.7" x2="340.4" y2="676.7" stroke="#B79F00" stroke-width="0.8" />
<rect x="336" y="674.1" width="3.8" height="5.2" fill="none" stroke="#B79F00" stroke-width="0.6"/>
<text transform="translate(346.6,679.4) scale(1,1.0)" font-size="9.4" text-anchor="start" fill="#1a1a1a" >Embryo</text>
<rect x="334.4" y="680.6" width="7" height="7.8" fill="#fff" stroke="#999" stroke-width="0.5"/>
<line x1="335.5" y1="684.5" x2="340.4" y2="684.5" stroke="#00BA38" stroke-width="0.8" />
<rect x="336" y="681.9" width="3.8" height="5.2" fill="none" stroke="#00BA38" stroke-width="0.6"/>
<text transform="translate(346.6,687.2) scale(1,1.0)" font-size="9.4" text-anchor="start" fill="#1a1a1a" >Root</text>
<rect x="334.4" y="688.4" width="7" height="7.8" fill="#fff" stroke="#999" stroke-width="0.5"/>
<line x1="335.5" y1="692.3" x2="340.4" y2="692.3" stroke="#00BFC4" stroke-width="0.8" />
<rect x="336" y="689.7" width="3.8" height="5.2" fill="none" stroke="#00BFC4" stroke-width="0.6"/>
<text transform="translate(346.6,695) scale(1,1.0)" font-size="9.4" text-anchor="start" fill="#1a1a1a" >Internode</text>
<rect x="334.4" y="696.2" width="7" height="7.8" fill="#fff" stroke="#999" stroke-width="0.5"/>
<line x1="335.5" y1="700.1" x2="340.4" y2="700.1" stroke="#619CFF" stroke-width="0.8" />
<rect x="336" y="697.5" width="3.8" height="5.2" fill="none" stroke="#619CFF" stroke-width="0.6"/>
<text transform="translate(346.6,702.8) scale(1,1.0)" font-size="9.4" text-anchor="start" fill="#1a1a1a" >Panicle</text>
<rect x="334.4" y="704" width="7" height="7.8" fill="#fff" stroke="#999" stroke-width="0.5"/>
<line x1="335.5" y1="707.9" x2="340.4" y2="707.9" stroke="#F564E3" stroke-width="0.8" />
<rect x="336" y="705.3" width="3.8" height="5.2" fill="none" stroke="#F564E3" stroke-width="0.6"/>
<text transform="translate(346.6,710.6) scale(1,1.0)" font-size="9.4" text-anchor="start" fill="#1a1a1a" >Caryopsis</text>
</svg>
</body></html>
